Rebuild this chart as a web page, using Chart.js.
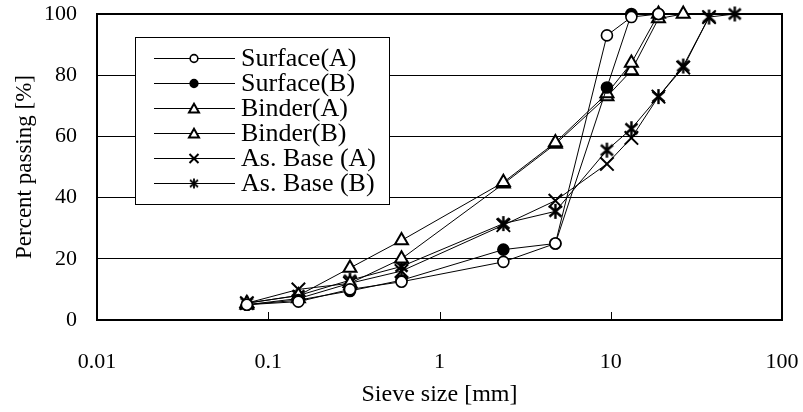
<!DOCTYPE html>
<html>
<head>
<meta charset="utf-8">
<script src="https://cdn.jsdelivr.net/npm/chart.js@4.4.1/dist/chart.umd.min.js"></script>
<style>
html, body { margin: 0; padding: 0; background: #fff; }
#wrap { width: 803px; height: 412px; }
</style>
</head>
<body>
<div id="wrap"><canvas id="myChart" width="803" height="412"></canvas></div>
<script>
// sieve sizes in mm (x values)
const sieveSizes = [0.075, 0.15, 0.3, 0.6, 2.36, 4.75, 9.5, 13.2, 19, 26.5, 37.5, 53];
const xTickValues = [0.01, 0.1, 1, 10, 100];

// percent passing per mix
const surfaceA = [5, 6, 10, 12.5, 19, 25, 93, 99, 100];
const surfaceB = [5, 6.5, 9.5, 13, 23, 25, 76, 100, 100];
const binderA = [5.5, 8, 17, 26, 45, 58, 74, 84, 100];
const binderB = [5, 7, 12, 20, 44.5, 57.5, 73, 81.5, 98.5, 100];
const baseA = [5.5, 10, 12, 16, 31, 39, 51, 59.5, 73, 82.5, 99];
const baseB = [5.5, 8, 13, 17.5, 31.5, 35.5, 55.5, 62.5, 73, 83, 99, 100];

const FONT = '"Liberation Serif", "Times New Roman", serif';

function points(vals) {
    return vals.map((v, i) => ({ x: sieveSizes[i], y: v }));
}

// asterisk marker (X with a vertical bar)
function asteriskImage(size, lw) {
    const c = document.createElement('canvas');
    c.width = c.height = size;
    const g = c.getContext('2d');
    const m = size / 2, r = size / 2 - 1;
    g.strokeStyle = '#000';
    g.lineWidth = lw;
    g.beginPath();
    g.moveTo(m, m - r); g.lineTo(m, m + r);
    g.moveTo(m - r * 0.8, m - r * 0.7); g.lineTo(m + r * 0.8, m + r * 0.7);
    g.moveTo(m + r * 0.8, m - r * 0.7); g.lineTo(m - r * 0.8, m + r * 0.7);
    g.stroke();
    return c;
}
const starBig = asteriskImage(17, 2.4);
const starSmall = asteriskImage(12, 1.8);

function series(label, vals, style, fill, radius, bw) {
    return {
        label: label,
        data: points(vals),
        borderColor: '#000',
        borderWidth: 1,
        pointStyle: style,
        pointRadius: radius,
        pointHoverRadius: radius,
        pointBackgroundColor: fill,
        pointBorderColor: '#000',
        pointBorderWidth: bw,
        fill: false,
        tension: 0,
        clip: false
    };
}

function drawMarker(ctx, ds, x, y) {
    const r = ds.pointStyle === 'crossRot' ? 5 : ds.pointRadius * 0.7;
    ctx.save();
    ctx.lineWidth = ds.pointBorderWidth;
    ctx.strokeStyle = '#000';
    ctx.fillStyle = ds.pointBackgroundColor;
    ctx.beginPath();
    if (ds.pointStyle === 'circle') {
        ctx.arc(x, y, r, 0, Math.PI * 2);
        ctx.fill(); ctx.stroke();
    } else if (ds.pointStyle === 'triangle') {
        for (let k = 0; k < 3; k++) {
            const a = k * 2 * Math.PI / 3;
            const px = x + Math.sin(a) * r * 1.1, py = y - Math.cos(a) * r * 1.1 + 1;
            k === 0 ? ctx.moveTo(px, py) : ctx.lineTo(px, py);
        }
        ctx.closePath();
        ctx.fill(); ctx.stroke();
    } else if (ds.pointStyle === 'crossRot') {
        const d = r * 0.9;
        ctx.moveTo(x - d, y - d); ctx.lineTo(x + d, y + d);
        ctx.moveTo(x + d, y - d); ctx.lineTo(x - d, y + d);
        ctx.stroke();
    } else {
        ctx.drawImage(starSmall, x - starSmall.width / 2, y - starSmall.height / 2);
    }
    ctx.restore();
}

// legend box inside the plot, white background
const legendBox = {
    id: 'legendBox',
    afterDraw(chart) {
        const ctx = chart.ctx, a = chart.chartArea;
        const x0 = a.left + 38, y0 = a.top + 23, w = 254, h = 167;
        ctx.save();
        ctx.fillStyle = '#fff';
        ctx.fillRect(x0, y0, w, h);
        ctx.strokeStyle = '#000';
        ctx.lineWidth = 1;
        ctx.strokeRect(x0 + 0.5, y0 + 0.5, w, h);
        chart.data.datasets.forEach((ds, i) => {
            const y = Math.round(y0 + 21 + i * 25) + 0.5;
            ctx.strokeStyle = '#000';
            ctx.lineWidth = 1;
            ctx.beginPath();
            ctx.moveTo(x0 + 19, y);
            ctx.lineTo(x0 + 100, y);
            ctx.stroke();
            drawMarker(ctx, ds, x0 + 59, y);
            ctx.fillStyle = '#000';
            ctx.font = '26px ' + FONT;
            ctx.textAlign = 'left';
            ctx.textBaseline = 'middle';
            ctx.fillText(ds.label, x0 + 106, y + 1);
        });
        ctx.restore();
    }
};

// plot frame and the small inner ticks on the x axis
const frame = {
    id: 'frame',
    beforeDatasetsDraw(chart) {
        const ctx = chart.ctx, a = chart.chartArea, xs = chart.scales.x;
        ctx.save();
        ctx.strokeStyle = '#000';
        ctx.lineWidth = 2;
        ctx.strokeRect(a.left, a.top, a.right - a.left, a.bottom - a.top);
        ctx.lineWidth = 1;
        xs.ticks.forEach(t => {
            if (t.value > xs.min && t.value < xs.max) {
                const px = Math.round(xs.getPixelForValue(t.value)) + 0.5;
                ctx.beginPath();
                ctx.moveTo(px, a.bottom);
                ctx.lineTo(px, a.bottom - 8);
                ctx.stroke();
            }
        });
        ctx.restore();
    }
};

const gradationChart = new Chart(document.getElementById('myChart').getContext('2d'), {
    type: 'line',
    data: {
        datasets: [
            series('Surface(A)', surfaceA, 'circle', '#fff', 5.5, 1.6),
            series('Surface(B)', surfaceB, 'circle', '#000', 5.5, 1.6),
            series('Binder(A)', binderA, 'triangle', '#fff', 7.5, 2),
            series('Binder(B)', binderB, 'triangle', '#fff', 7.5, 2),
            series('As. Base (A)', baseA, 'crossRot', '#fff', 9.5, 2),
            series('As. Base (B)', baseB, starBig, '#fff', 8, 2)
        ]
    },
    options: {
        responsive: false,
        animation: false,
        layout: { padding: { left: 0, right: 21, top: 14, bottom: 0 } },
        plugins: {
            legend: { display: false },
            tooltip: { enabled: false }
        },
        scales: {
            x: {
                type: 'logarithmic',
                min: 0.01,
                max: 100,
                afterBuildTicks: s => { s.ticks = xTickValues.map(v => ({ value: v })); },
                afterFit: s => { s.height = 92; s.paddingLeft = 0; s.paddingRight = 0; },
                grid: { display: false, drawTicks: false },
                border: { display: true, color: '#000', width: 2 },
                ticks: {
                    color: '#000',
                    padding: 29,
                    autoSkip: false,
                    maxRotation: 0,
                    font: { family: FONT, size: 22 },
                    callback: v => String(v)
                },
                title: {
                    display: true,
                    text: 'Sieve size [mm]',
                    color: '#000',
                    padding: { top: 0, bottom: 3 },
                    font: { family: FONT, size: 24 }
                }
            },
            y: {
                min: 0,
                max: 100,
                afterFit: s => { s.width = 97; s.paddingTop = 0; s.paddingBottom = 0; },
                grid: { color: '#000', lineWidth: 1, drawTicks: false },
                border: { display: true, color: '#000', width: 2 },
                ticks: {
                    stepSize: 20,
                    color: '#000',
                    padding: 20,
                    font: { family: FONT, size: 22 }
                },
                title: {
                    display: true,
                    text: 'Percent passing [%]',
                    color: '#000',
                    padding: { top: 11, bottom: 0 },
                    font: { family: FONT, size: 23 }
                }
            }
        }
    },
    plugins: [frame, legendBox]
});
</script>
</body>
</html>
